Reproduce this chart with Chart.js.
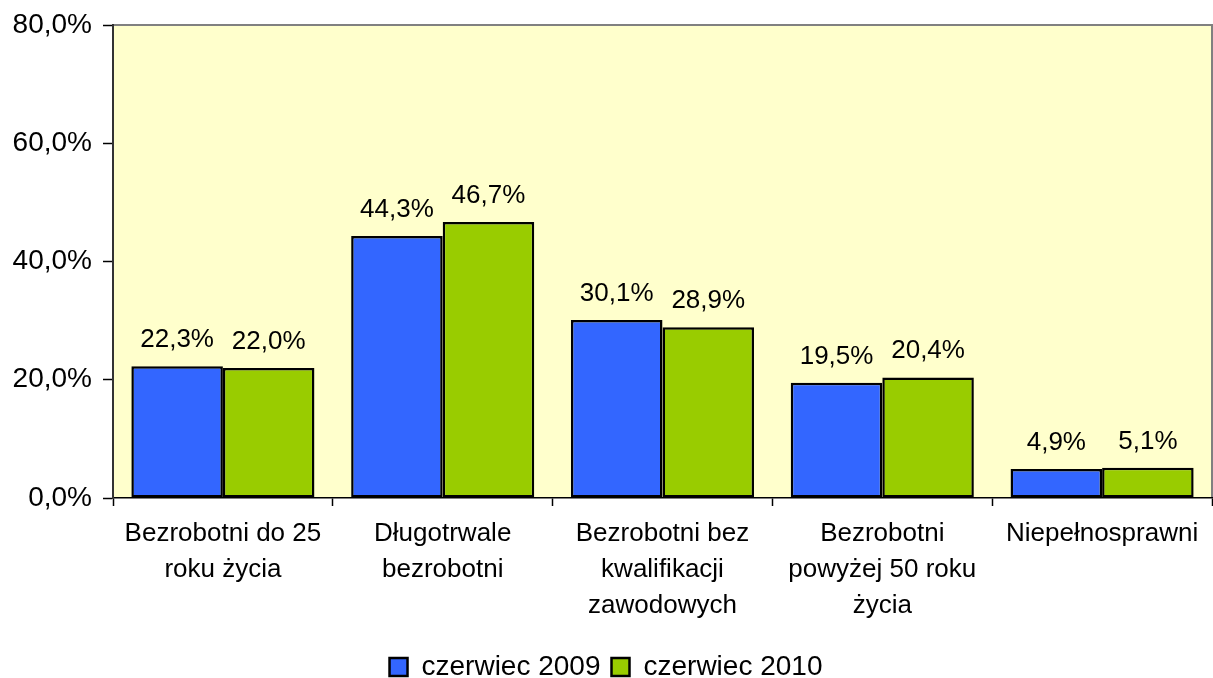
<!DOCTYPE html>
<html>
<head>
<meta charset="utf-8">
<script src="https://cdn.jsdelivr.net/npm/chart.js@4"></script>
<style>
  body { margin: 0; background: #fff; }
  #wrap { width: 1213px; height: 678px; }
</style>
</head>
<body>
<div id="wrap"><canvas id="bars"></canvas></div>
<script>
const categories = [
    ['Bezrobotni do 25', 'roku życia'],
    ['Długotrwale', 'bezrobotni'],
    ['Bezrobotni bez', 'kwalifikacji', 'zawodowych'],
    ['Bezrobotni', 'powyżej 50 roku', 'życia'],
    ['Niepełnosprawni']
];
const seriesNames = ['czerwiec 2009', 'czerwiec 2010'];
const values2009 = [22.3, 44.3, 30.1, 19.5, 4.9];
const values2010 = [22.0, 46.7, 28.9, 20.4, 5.1];
const yTicks = [0, 20, 40, 60, 80];

const FONT = 'Liberation Sans, Arial, sans-serif';

function pct(v) {
    return v.toFixed(1).replace('.', ',') + '%';
}

// yellow plot background and grey frame
const plotBack = {
    id: 'plotBack',
    beforeDraw(chart) {
        const {ctx, chartArea: a} = chart;
        ctx.save();
        ctx.fillStyle = '#FFFFCC';
        ctx.fillRect(a.left, a.top, a.right - a.left, a.bottom - a.top);
        ctx.strokeStyle = '#808080';
        ctx.lineWidth = 2;
        ctx.beginPath();
        ctx.moveTo(a.left, a.top);
        ctx.lineTo(a.right, a.top);
        ctx.lineTo(a.right, a.bottom);
        ctx.stroke();
        ctx.restore();
    }
};

// value labels over the bars
const valueLabels = {
    id: 'valueLabels',
    afterDatasetsDraw(chart) {
        const ctx = chart.ctx;
        ctx.save();
        ctx.font = '26px ' + FONT;
        ctx.fillStyle = '#000';
        ctx.textAlign = 'center';
        ctx.textBaseline = 'alphabetic';
        chart.data.datasets.forEach((ds, i) => {
            chart.getDatasetMeta(i).data.forEach((bar, j) => {
                ctx.fillText(pct(ds.data[j]), bar.x, bar.y - 19);
            });
        });
        ctx.restore();
    }
};

new Chart(document.getElementById('bars'), {
    type: 'bar',
    data: {
        labels: categories,
        datasets: [{
            label: seriesNames[0],
            data: values2009,
            backgroundColor: '#3366FF',
            borderColor: '#000',
            borderWidth: 2.5,
            borderSkipped: false
        }, {
            label: seriesNames[1],
            data: values2010,
            backgroundColor: '#99CC00',
            borderColor: '#000',
            borderWidth: 2.5,
            borderSkipped: false
        }]
    },
    options: {
        responsive: true,
        maintainAspectRatio: false,
        animation: false,
        layout: { padding: { top: 25, right: 1, left: 0, bottom: -13 } },
        datasets: { bar: { categoryPercentage: 0.833, barPercentage: 1.0 } },
        plugins: {
            tooltip: { enabled: false },
            legend: {
                position: 'bottom',
                labels: {
                    font: { family: FONT, size: 28 },
                    color: '#000',
                    boxWidth: 18,
                    boxHeight: 18,
                    padding: 11
                }
            }
        },
        scales: {
            x: {
                afterFit(scale) { scale.height = 144; },
                grid: {
                    offset: true,
                    drawOnChartArea: false,
                    tickLength: 8,
                    tickColor: '#000',
                    tickWidth: 1.5
                },
                border: { color: '#000', width: 1.5 },
                ticks: {
                    color: '#000',
                    padding: 10,
                    maxRotation: 0,
                    font: { family: FONT, size: 26, lineHeight: 1.38 }
                }
            },
            y: {
                min: 0,
                max: 80,
                afterFit(scale) { scale.width = 113; },
                afterBuildTicks(scale) { scale.ticks = yTicks.map(v => ({ value: v })); },
                grid: {
                    drawOnChartArea: false,
                    tickLength: 10,
                    tickColor: '#000',
                    tickWidth: 1.5
                },
                border: { color: '#333', width: 2 },
                ticks: {
                    color: '#000',
                    padding: 11,
                    font: { family: FONT, size: 28, lineHeight: 0.9 },
                    callback: v => pct(v)
                }
            }
        }
    },
    plugins: [plotBack, valueLabels]
});
</script>
</body>
</html>
